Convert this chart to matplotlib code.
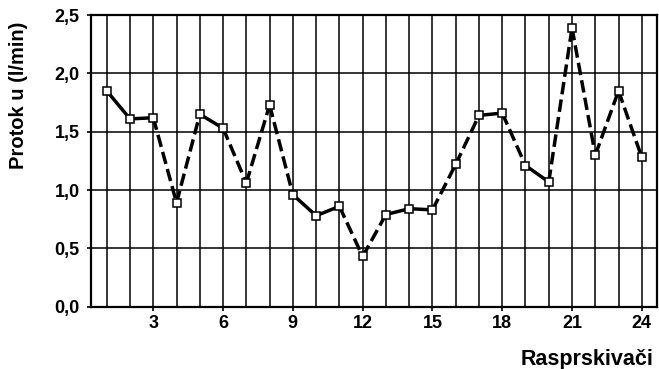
"""Protok po rasprskivacima - line chart with mixed solid/dashed segments."""

import matplotlib
matplotlib.use('Agg')
import matplotlib.pyplot as plt
from matplotlib.ticker import MultipleLocator, FixedFormatter, FixedLocator


sprinklers = list(range(1, 25))
flow = [1.85, 1.61, 1.62, 0.89, 1.65, 1.53, 1.06, 1.73, 0.96, 0.78,
        0.86, 0.43, 0.79, 0.84, 0.83, 1.22, 1.64, 1.66, 1.21, 1.07,
        2.39, 1.30, 1.85, 1.28]
# Segments between consecutive points drawn solid (index of left point).
solid_segments = {0, 1, 4, 8, 9, 12, 13, 16, 18}
y_ticks = [0.0, 0.5, 1.0, 1.5, 2.0, 2.5]
y_tick_labels = ['0,0', '0,5', '1,0', '1,5', '2,0', '2,5']
x_ticks = [3, 6, 9, 12, 15, 18, 21, 24]
x_label = 'Rasprskivači'
y_label = 'Protok u (l/min)'


def main():
  plt.rcParams['font.family'] = ['Liberation Sans', 'DejaVu Sans']
  plt.rcParams['font.weight'] = 'bold'
  fig = plt.figure(figsize=(6.59, 3.69), dpi=100)
  axis = fig.add_axes([0.138, 0.169, 0.8585, 0.790])

  for i in range(len(sprinklers) - 1):
    xs = sprinklers[i:i + 2]
    ys = flow[i:i + 2]
    if i in solid_segments:
      axis.plot(xs, ys, color='black', linewidth=2.5,
                solid_capstyle='butt', zorder=3)
    else:
      axis.plot(xs, ys, color='black', linewidth=2.5,
                dashes=(3.6, 1.5), dash_capstyle='butt', zorder=3)
  axis.plot(sprinklers, flow, linestyle='none', marker='s', markersize=5.5,
            markerfacecolor='white', markeredgecolor='black',
            markeredgewidth=1.1, zorder=4)

  axis.set_xlim(0.32, 24.64)
  axis.set_ylim(0, 2.5)
  axis.xaxis.set_major_locator(FixedLocator(x_ticks))
  axis.xaxis.set_minor_locator(MultipleLocator(1))
  axis.yaxis.set_major_locator(FixedLocator(y_ticks))
  axis.yaxis.set_major_formatter(FixedFormatter(y_tick_labels))
  axis.grid(True, which='both', axis='x', color='black', linewidth=1.1)
  axis.grid(True, which='major', axis='y', color='black', linewidth=1.1)
  axis.tick_params(axis='both', which='major', length=3, width=1.2,
                   labelsize=13, colors='black')
  axis.tick_params(axis='x', which='major', pad=3)
  axis.tick_params(axis='y', which='major', pad=5)
  axis.tick_params(axis='x', which='minor', length=0)
  for label in axis.get_xticklabels() + axis.get_yticklabels():
    label.set_fontweight('bold')
  for spine in axis.spines.values():
    spine.set_linewidth(1.6)
    spine.set_color('black')

  fig.text(0.028, 0.743, y_label, rotation=90, ha='center', va='center',
           fontsize=14.5, fontweight='bold')
  fig.text(0.991, 0.026, x_label, ha='right', va='center',
           fontsize=15.5, fontweight='bold')

  fig.savefig('out.png', dpi=100)
  plt.close(fig)


if __name__ == '__main__':
  main()
